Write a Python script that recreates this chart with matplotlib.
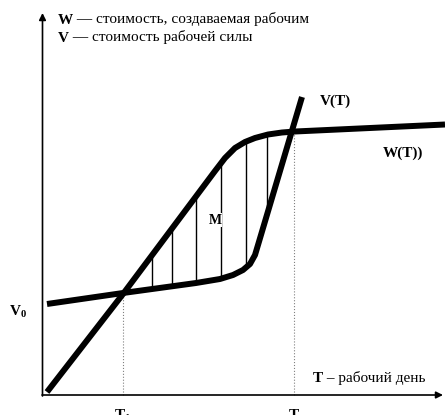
import numpy as np
import matplotlib
matplotlib.use("Agg")
import matplotlib.pyplot as plt

plt.rcParams['font.family'] = ['Liberation Serif', 'DejaVu Serif']
plt.rcParams['mathtext.fontset'] = 'custom'
plt.rcParams['mathtext.rm'] = 'Liberation Serif'
plt.rcParams['mathtext.bf'] = 'Liberation Serif:bold'
plt.rcParams['mathtext.it'] = 'Liberation Serif:italic'

# W(T) curve: value created by the worker
W_x = [5, 81, 173, 183, 193, 203, 213, 226, 240, 253, 403]
W_y = [3, 101, 224, 237, 247, 253, 257, 260.5, 262.5, 263.5, 270.5]
# V(T) curve: value of labour power
V_x = [5, 81, 154, 178, 191, 201, 208, 213, 216, 260]
V_y = [91, 102, 112, 116, 120, 125, 131, 140, 150, 298]
# hatch positions inside surplus area M
hatch_x = [110, 130, 154, 179, 204, 225]
# key points on T axis
T1 = 81
T2 = 252

fig = plt.figure(figsize=(4.45, 4.15), dpi=100)
ax = fig.add_axes([0, 0, 1, 1])
ax.set_xlim(-42, 403)
ax.set_ylim(-20, 395)
ax.axis('off')

# axes arrows
arr = dict(arrowstyle='-|>', lw=1.2, color='black', mutation_scale=10,
           shrinkA=0, shrinkB=0)
ax.annotate('', xy=(0.5, 382), xytext=(0.5, -1), arrowprops=arr)
ax.annotate('', xy=(401, 0), xytext=(0, 0), arrowprops=arr)

# dotted guides
W_at_T1 = np.interp(T1, W_x, W_y)
W_at_T2 = np.interp(T2, W_x, W_y)
ax.plot([T1, T1], [0, W_at_T1], color='gray', lw=0.8, ls=':')
ax.plot([T2, T2], [0, W_at_T2], color='gray', lw=0.8, ls=':')

# hatch lines
for hx in hatch_x:
    ax.plot([hx, hx], [np.interp(hx, V_x, V_y), np.interp(hx, W_x, W_y)],
            color='black', lw=1.0)

# curves
ax.plot(W_x, W_y, color='black', lw=4.3, solid_joinstyle='round', solid_capstyle='butt')
ax.plot(V_x, V_y, color='black', lw=4.3, solid_joinstyle='round', solid_capstyle='butt')

fs = 11
# legend text at top
t1 = ax.text(16, 375, 'W', fontsize=fs, fontweight='bold', va='center', ha='left')
ax.annotate(' — стоимость, создаваемая рабочим', xy=(1, 0), xycoords=t1,
            fontsize=fs, va='bottom', ha='left')
t2 = ax.text(16, 357, 'V', fontsize=fs, fontweight='bold', va='center', ha='left')
ax.annotate(' — стоимость рабочей силы', xy=(1, 0), xycoords=t2,
            fontsize=fs, va='bottom', ha='left')

# axis label
t3 = ax.text(271, 17, 'T', fontsize=fs, fontweight='bold', va='center', ha='left')
ax.annotate(' – рабочий день', xy=(1, 0), xycoords=t3,
            fontsize=fs, va='bottom', ha='left')

# curve labels
ax.text(278, 294, 'V(T)', fontsize=fs, fontweight='bold', va='center', ha='left')
ax.text(341, 242, 'W(T))', fontsize=fs, fontweight='bold', va='center', ha='left')
ax.text(173, 175, 'M', fontsize=10, fontweight='bold', va='center', ha='center',
        bbox=dict(facecolor='white', edgecolor='none', pad=0.5))
ax.text(-24, 83, r'$\mathbf{V}_\mathbf{0}$', fontsize=fs, va='center', ha='center')

# T ticks below axis
ax.text(T1, -13, r'$\mathbf{T}_\mathbf{1}$', fontsize=fs, va='top', ha='center')
ax.text(T2, -13, r'$\mathbf{T}$', fontsize=fs, va='top', ha='center')

fig.savefig('out.png', dpi=100)
